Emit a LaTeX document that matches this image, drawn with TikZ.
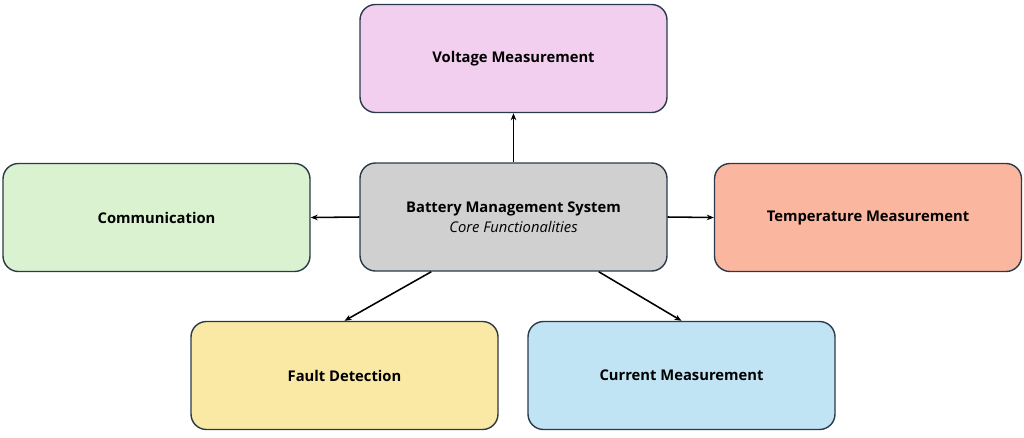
\documentclass[tikz,border=0pt]{standalone}
\usepackage{fontspec}
\setmainfont{Open Sans}
\usetikzlibrary{arrows.meta}
\definecolor{volt}{HTML}{F2CFEE}
\definecolor{core}{HTML}{D0D0D0}
\definecolor{comm}{HTML}{DAF2D0}
\definecolor{temp}{HTML}{FBB69F}
\definecolor{fault}{HTML}{F9E9A4}
\definecolor{curr}{HTML}{C1E4F5}
\definecolor{edge}{HTML}{2B3A4A}
\begin{document}
\begin{tikzpicture}[x=0.025cm,y=-0.025cm,
 box/.style={draw=edge,line width=1pt,rounded corners=11pt,minimum width=307*0.025cm,minimum height=108*0.025cm,font=\fontsize{10.5}{13}\selectfont\bfseries,align=center,inner sep=0pt},
 arr/.style={-{Stealth[length=5pt,width=4pt]},line width=1.1pt,black}]
\useasboundingbox (0,0) rectangle (1024,437);
\node[box,fill=volt] (v) at (513.5,58.5) {Voltage Measurement};
\node[box,fill=core] (c) at (513.5,217) {Battery Management System\\[1pt]{\mdseries\itshape Core Functionalities}};
\node[box,fill=comm] (m) at (156.5,217.5) {Communication};
\node[box,fill=temp] (t) at (868,217.5) {Temperature Measurement};
\node[box,fill=fault] (f) at (344.5,375.5) {Fault Detection};
\node[box,fill=curr] (i) at (681.5,375.5) {Current Measurement};
\draw[arr] (c.north) -- (v.south);
\draw[arr] (c.west) -- (m.east);
\draw[arr] (c.east) -- (t.east -| t.west);
\draw[arr] (c.south west) ++(72,0) coordinate (a1) -- (f.north);
\draw[arr] (c.south east) ++(-69,0) coordinate (a2) -- (i.north);
\end{tikzpicture}
\end{document}
